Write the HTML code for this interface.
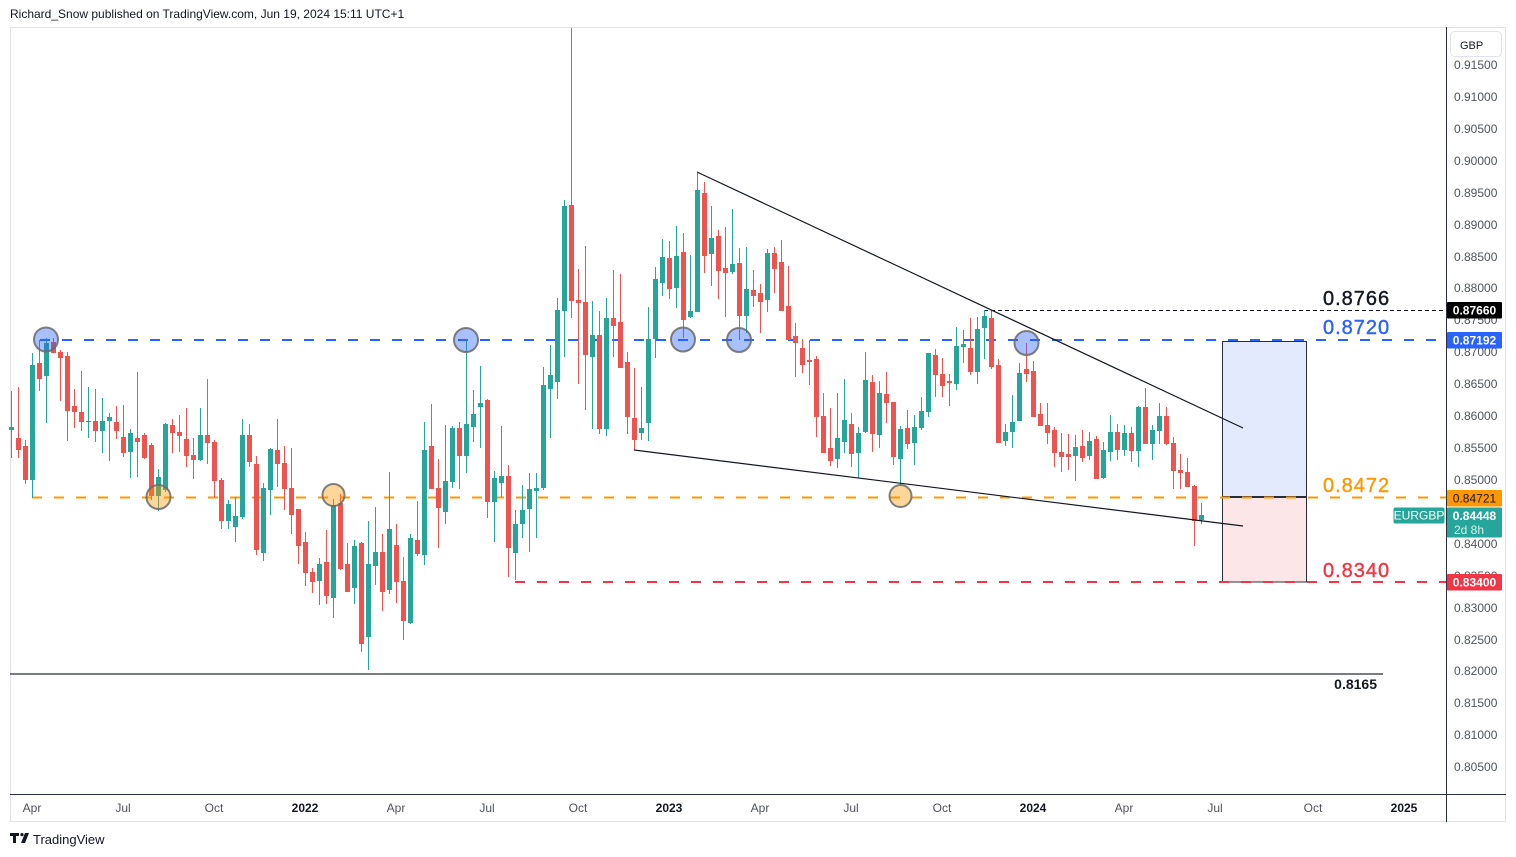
<!DOCTYPE html>
<html>
<head>
<meta charset="utf-8">
<style>
  html,body{margin:0;padding:0;background:#ffffff;}
  body{width:1516px;height:857px;overflow:hidden;position:relative;font-family:"Liberation Sans",sans-serif;}
  svg{position:absolute;left:0;top:0;}
</style>
</head>
<body>
<svg id="chart" width="1516" height="857" viewBox="0 0 1516 857" xmlns="http://www.w3.org/2000/svg" font-family="Liberation Sans, sans-serif">
  <rect x="0" y="0" width="1516" height="857" fill="#ffffff"/>
  <!-- header -->
  <text x="10" y="18" font-size="12" fill="#131722">Richard_Snow published on TradingView.com, Jun 19, 2024 15:11 UTC+1</text>

  <!-- frame -->
  <rect x="10.5" y="27.5" width="1495" height="794" fill="none" stroke="#e0e3eb" stroke-width="1"/>

  <!-- price axis labels -->
  <g font-size="12" fill="#50535e">
    <text x="1454" y="69">0.91500</text>
    <text x="1454" y="101">0.91000</text>
    <text x="1454" y="133">0.90500</text>
    <text x="1454" y="165">0.90000</text>
    <text x="1454" y="197">0.89500</text>
    <text x="1454" y="229">0.89000</text>
    <text x="1454" y="261">0.88500</text>
    <text x="1454" y="292">0.88000</text>
    <text x="1454" y="324">0.87500</text>
    <text x="1454" y="356">0.87000</text>
    <text x="1454" y="388">0.86500</text>
    <text x="1454" y="420">0.86000</text>
    <text x="1454" y="452">0.85500</text>
    <text x="1454" y="484">0.85000</text>
    <text x="1454" y="516">0.84500</text>
    <text x="1454" y="548">0.84000</text>
    <text x="1454" y="580">0.83500</text>
    <text x="1454" y="612">0.83000</text>
    <text x="1454" y="644">0.82500</text>
    <text x="1454" y="675">0.82000</text>
    <text x="1454" y="707">0.81500</text>
    <text x="1454" y="739">0.81000</text>
    <text x="1454" y="771">0.80500</text>
  </g>

  <!-- GBP box -->
  <rect x="1450.5" y="31.5" width="51" height="25" rx="4" fill="#ffffff" stroke="#e0e3eb"/>
  <text x="1460" y="49" font-size="11" fill="#131722">GBP</text>

  <!-- time axis labels -->
  <g font-size="12" fill="#50535e" text-anchor="middle">
    <text x="32" y="812">Apr</text>
    <text x="123" y="812">Jul</text>
    <text x="214" y="812">Oct</text>
    <text x="305" y="812" fill="#131722" font-weight="bold">2022</text>
    <text x="396" y="812">Apr</text>
    <text x="487" y="812">Jul</text>
    <text x="578" y="812">Oct</text>
    <text x="669" y="812" fill="#131722" font-weight="bold">2023</text>
    <text x="760" y="812">Apr</text>
    <text x="851" y="812">Jul</text>
    <text x="942" y="812">Oct</text>
    <text x="1033" y="812" fill="#131722" font-weight="bold">2024</text>
    <text x="1124" y="812">Apr</text>
    <text x="1215" y="812">Jul</text>
    <text x="1313" y="812">Oct</text>
    <text x="1404" y="812" fill="#131722" font-weight="bold">2025</text>
  </g>

  <!-- axis lines -->
  <line x1="1446.5" y1="27" x2="1446.5" y2="822" stroke="#2a2e39" stroke-width="1"/>
  <line x1="10" y1="794.5" x2="1506" y2="794.5" stroke="#2a2e39" stroke-width="1"/>

  <!-- position box -->
  <rect x="1222.5" y="341" width="84" height="156" fill="#e3eafe"/>
  <rect x="1222.5" y="497" width="84" height="85" fill="#fde6e8"/>
  <rect x="1222.5" y="341.5" width="84" height="240.5" fill="none" stroke="#2a2e39" stroke-width="1"/>
  <line x1="1222.5" y1="497" x2="1306.5" y2="497" stroke="#2a2e39" stroke-width="2"/>

  <!-- horizontal levels -->
  <line x1="40" y1="340" x2="1446" y2="340" stroke="#2962ff" stroke-width="2" stroke-dasharray="10 12"/>
  <line x1="32" y1="497.5" x2="1446" y2="497.5" stroke="#ff9800" stroke-width="2" stroke-dasharray="10 12"/>
  <line x1="515" y1="582" x2="1446" y2="582" stroke="#f23645" stroke-width="2" stroke-dasharray="10 12"/>
  <line x1="984" y1="310.5" x2="1446" y2="310.5" stroke="#131722" stroke-width="1" stroke-dasharray="4 3"/>
  <line x1="10" y1="674" x2="1383" y2="674" stroke="#2a2e39" stroke-width="1.3"/>

  <!-- candles -->
  <g id="candles"></g>

  <!-- trend lines -->
  <line x1="697" y1="172" x2="1243" y2="428" stroke="#131722" stroke-width="1.2"/>
  <line x1="634" y1="450" x2="1243" y2="526" stroke="#131722" stroke-width="1.2"/>

  <!-- circles -->
  <g stroke="#6a6a6a" stroke-width="2" stroke-opacity="0.85">
    <circle cx="46" cy="339.5" r="12" fill="#2962ff" fill-opacity="0.4"/>
    <circle cx="466" cy="340" r="12" fill="#2962ff" fill-opacity="0.4"/>
    <circle cx="683" cy="339.5" r="12" fill="#2962ff" fill-opacity="0.4"/>
    <circle cx="739" cy="340" r="12" fill="#2962ff" fill-opacity="0.4"/>
    <circle cx="1026.5" cy="343" r="12" fill="#2962ff" fill-opacity="0.4"/>
    <circle cx="158.5" cy="497" r="12" fill="#ff9800" fill-opacity="0.4"/>
    <circle cx="333.5" cy="495" r="11" fill="#ff9800" fill-opacity="0.4"/>
    <circle cx="900.5" cy="496" r="11" fill="#ff9800" fill-opacity="0.4"/>
  </g>

  <!-- big level labels -->
  <g font-size="20" letter-spacing="1" stroke-width="0.4">
    <text x="1323" y="305" fill="#131722" stroke="#131722">0.8766</text>
    <text x="1323" y="334" fill="#2962ff" stroke="#2962ff">0.8720</text>
    <text x="1323" y="492" fill="#ff9800" stroke="#ff9800">0.8472</text>
    <text x="1323" y="577" fill="#f23645" stroke="#f23645">0.8340</text>
  </g>
  <text x="1377" y="689" font-size="14" font-weight="bold" fill="#131722" text-anchor="end">0.8165</text>

  <!-- price tags -->
  <rect x="1447" y="302" width="55" height="16.5" rx="1" fill="#000000"/>
  <text x="1474.5" y="314.5" font-size="12" fill="#ffffff" text-anchor="middle" font-weight="bold">0.87660</text>

  <rect x="1447" y="332" width="55" height="16.5" rx="1" fill="#2962ff"/>
  <text x="1474.5" y="344.5" font-size="12" fill="#ffffff" text-anchor="middle" font-weight="bold">0.87192</text>

  <rect x="1447" y="490" width="55" height="16.5" rx="1" fill="#ff9800"/>
  <text x="1474.5" y="502.5" font-size="12" fill="#131722" text-anchor="middle">0.84721</text>

  <rect x="1393.5" y="507.5" width="51" height="16" rx="2" fill="#26a69a"/>
  <text x="1419" y="519.5" font-size="12" fill="#ffffff" text-anchor="middle">EURGBP</text>

  <rect x="1447" y="507.5" width="55" height="30" rx="1" fill="#26a69a"/>
  <text x="1474.5" y="520" font-size="12" fill="#ffffff" text-anchor="middle" font-weight="bold">0.84448</text>
  <text x="1454" y="534" font-size="12" fill="#d6f0ed">2d 8h</text>

  <rect x="1447" y="574" width="55" height="16.5" rx="1" fill="#f23645"/>
  <text x="1474.5" y="586.5" font-size="12" fill="#ffffff" text-anchor="middle" font-weight="bold">0.83400</text>

  <!-- TradingView logo -->
  <g fill="#131722">
    <rect x="10" y="833" width="9" height="3"/>
    <rect x="13" y="833" width="3" height="10"/>
    <circle cx="22" cy="834.6" r="1.6"/>
    <polygon points="25,833 29,833 25,843 21,843"/>
  </g>
  <text x="33" y="844" font-size="13" fill="#131722">TradingView</text>
</svg>
<script>
(function(){
  var D=[
[430,427,391,458],[438,450,387,458],[446,480,440,484],[480,365,353,498],[363,379,340,391],
[376,343,338,423],[342,353,338,353],[352,358,350,401],[356,411,352,441],[406,412,389,428],
[412,422,371,431],[422,421,387,438],[421,431,389,442],[431,421,398,453],[421,417,413,461],
[422,431,406,439],[437,453,405,457],[452,433,429,478],[438,442,372,477],[435,458,433,459],
[445,496,443,500],[496,477,469,511],[490,424,423,492],[425,433,419,453],[432,436,415,452],
[439,456,408,467],[455,460,438,479],[460,435,408,461],[435,443,379,464],[442,481,440,497],
[480,521,478,529],[521,504,500,529],[527,516,497,542],[517,435,419,519],[435,462,424,467],
[464,550,456,555],[553,488,483,561],[490,449,448,515],[450,464,419,487],[463,489,446,510],
[488,515,448,534],[509,546,509,564],[542,573,532,586],[572,582,568,593],[581,564,558,605],
[562,596,530,604],[598,505,499,618],[503,569,494,570],[564,592,543,592],[588,546,540,604],
[543,644,542,652],[637,564,521,670],[566,552,507,585],[552,592,534,611],[590,529,472,594],
[545,582,524,603],[581,621,557,640],[623,538,534,624],[540,554,501,556],[555,450,422,565],
[446,489,404,489],[488,508,459,548],[512,481,425,524],[482,428,426,488],[428,456,422,489],
[456,424,339,473],[427,414,390,442],[407,403,366,448],[400,502,399,518],[502,478,471,542],
[483,476,426,497],[476,548,465,577],[553,524,510,580],[524,510,485,538],[509,489,473,552],
[491,488,473,538],[488,385,367,490],[389,375,345,438],[382,310,298,399],[311,206,200,357],
[205,301,28,318],[300,303,269,384],[302,355,246,410],[357,335,301,429],[335,429,311,434],
[429,318,298,436],[318,326,270,357],[322,368,274,368],[362,417,352,434],[418,440,368,450],
[433,428,387,440],[423,339,307,441],[339,279,267,358],[283,257,239,296],[258,289,241,299],
[288,256,226,308],[252,320,233,338],[317,311,255,318],[312,190,173,312],[193,256,182,273],
[254,238,206,286],[236,271,230,299],[268,273,227,317],[272,264,209,274],[263,316,248,340],
[316,289,247,333],[290,296,270,307],[293,302,284,333],[300,253,249,312],[253,269,247,293],
[262,311,240,311],[306,340,266,340],[336,343,323,377],[348,365,339,373],[360,362,340,385],
[359,417,356,437],[416,453,393,453],[448,461,408,466],[459,438,393,468],[442,420,379,453],
[424,454,413,467],[453,433,427,478],[432,380,352,433],[382,434,375,452],[435,393,381,448],
[394,403,372,423],[402,457,402,465],[459,429,426,486],[428,444,410,449],[443,427,415,465],
[428,411,397,430],[412,353,353,417],[355,375,349,397],[374,386,358,397],[381,383,374,406],
[384,346,327,390],[347,344,330,363],[348,372,318,375],[372,329,317,384],[328,316,310,359],
[318,367,310,369],[365,443,359,443],[441,432,424,446],[432,422,395,448],[421,373,363,421],
[369,374,343,382],[371,417,361,417],[414,426,403,426],[425,433,403,444],[430,453,427,467],
[452,457,433,472],[454,457,434,470],[456,447,435,481],[446,458,430,462],[456,441,432,460],
[439,479,436,479],[478,450,442,479],[452,432,415,461],[432,450,424,460],[450,433,425,456],
[433,451,427,462],[451,407,406,467],[407,444,388,444],[444,430,425,460],[431,416,403,444],
[416,444,407,445],[443,471,437,489],[470,473,454,489],[472,487,458,487],[486,521,485,546],
[520,515,503,524]
  ];
  var NS="http://www.w3.org/2000/svg";
  var g=document.getElementById("candles");
  for(var k=0;k<D.length;k++){
    var d=D[k],o=d[0],c=d[1],h=d[2],l=d[3];
    var up=c<o;
    var col=up?"#26a69a":"#ef5350";
    var cx=11.5+7*k;
    var w=document.createElementNS(NS,"line");
    w.setAttribute("x1",cx);w.setAttribute("x2",cx);
    w.setAttribute("y1",h);w.setAttribute("y2",l);
    w.setAttribute("stroke",col);w.setAttribute("stroke-width","1");
    g.appendChild(w);
    var top=Math.min(o,c),bh=Math.max(1,Math.abs(o-c));
    var r=document.createElementNS(NS,"rect");
    r.setAttribute("x",cx-2.5);r.setAttribute("y",top);
    r.setAttribute("width","5");r.setAttribute("height",bh);
    r.setAttribute("fill",col);
    g.appendChild(r);
  }
})();
</script>
</body>
</html>
